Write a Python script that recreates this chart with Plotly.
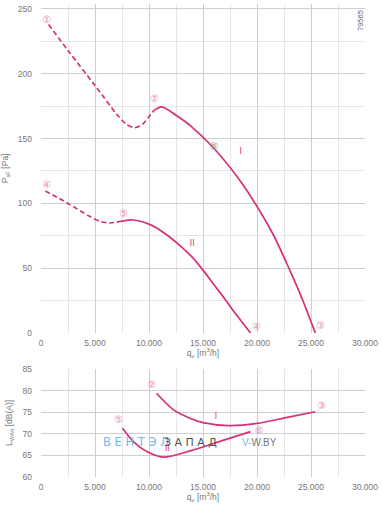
import plotly.graph_objects as go

# ---- data ----
# top chart: pressure curves
qI_dash = [700, 2500, 5000, 7000, 7900, 8700, 9400, 10000, 10500]
pI_dash = [238, 218, 191, 169, 161, 158.5, 161, 167, 172]
qI_sol = [10500, 11200, 12500, 13900, 15900, 18300, 19900, 21500, 22900, 24200, 25400]
pI_sol = [172, 174.5, 168, 159.5, 143.5, 119, 99, 76, 51, 26, 0]

qII_dash = [400, 2500, 4500, 5500, 6400, 7500]
pII_dash = [109.6, 100, 90, 86, 85, 86.3]
qII_sol = [7500, 8550, 10000, 11000, 12000, 13000, 14000, 15000, 16000, 17000, 18000, 19400]
pII_sol = [86.3, 87.2, 84, 79.5, 73.5, 66.5, 58.5, 48.5, 37.5, 26.5, 15, 0]

# bottom chart: sound power curves
qI_snd = [10700, 12250, 13900, 15000, 17400, 20000, 22800, 25400]
lI_snd = [79.4, 75.6, 73.5, 72.6, 71.9, 72.4, 73.8, 75.1]
qII_snd = [7560, 8550, 9800, 11300, 13900, 17000, 19400]
lII_snd = [71.3, 68.2, 65.9, 64.6, 66.1, 68.6, 70.5]

# point labels
top_labels = ["①", "②", "③", "④", "⑤", "④"]
top_lq = [550, 10500, 25900, 530, 7650, 19970]
top_lp = [241.5, 179.8, 5.4, 113.7, 91.8, 4.4]
bot_labels = ["②", "③", "⑤", "⑥"]
bot_lq = [10250, 26000, 7200, 20200]
bot_ll = [81.1, 76.3, 73.0, 70.5]

x_ticks = [0, 5000, 10000, 15000, 20000, 25000, 30000]
top_y_ticks = [0, 50, 100, 150, 200, 250]
bot_y_ticks = [60, 65, 70, 75, 80, 85]

PINK = "#d6307a"
LPINK = "#e98ab5"
GRID = "#cfcfcf"
MGRID = "#e6e6e6"
TXT = "#777777"

fig = go.Figure()

def line(x, y, dash, xa, ya):
    fig.add_trace(go.Scatter(x=x, y=y, mode="lines", xaxis=xa, yaxis=ya,
                             line=dict(color=PINK, width=1.7, dash=dash, shape="spline", smoothing=0.8),
                             hoverinfo="skip", showlegend=False))

line(qI_dash, pI_dash, "5px,3px", "x", "y")
line(qI_sol, pI_sol, "solid", "x", "y")
line(qII_dash, pII_dash, "5px,3px", "x", "y")
line(qII_sol, pII_sol, "solid", "x", "y")
line(qI_snd, lI_snd, "solid", "x2", "y2")
line(qII_snd, lII_snd, "solid", "x2", "y2")

fig.add_trace(go.Scatter(x=top_lq, y=top_lp, mode="text", text=top_labels, xaxis="x", yaxis="y",
                         textfont=dict(color=LPINK, size=10, family="DejaVu Sans"),
                         hoverinfo="skip", showlegend=False))
fig.add_trace(go.Scatter(x=bot_lq, y=bot_ll, mode="text", text=bot_labels, xaxis="x2", yaxis="y2",
                         textfont=dict(color=LPINK, size=10, family="DejaVu Sans"),
                         hoverinfo="skip", showlegend=False))
fig.add_trace(go.Scatter(x=[16050], y=[143.5], mode="text", text=["⑥"], xaxis="x", yaxis="y",
                         textfont=dict(color="#888888", size=10, family="DejaVu Sans"),
                         hoverinfo="skip", showlegend=False))
fig.add_trace(go.Scatter(x=[18500, 14000], y=[139.6, 68.7], mode="text", text=["I", "II"],
                         xaxis="x", yaxis="y",
                         textfont=dict(color=PINK, size=8, family="DejaVu Sans"),
                         hoverinfo="skip", showlegend=False))
fig.add_trace(go.Scatter(x=[16200, 11700], y=[73.8, 66.6], mode="text", text=["I", "II"],
                         xaxis="x2", yaxis="y2",
                         textfont=dict(color=PINK, size=8, family="DejaVu Sans"),
                         hoverinfo="skip", showlegend=False))

W, H = 382, 506
def px_x(p):
    return p / W
def px_y(p):
    return 1 - p / H

xd = [px_x(41), px_x(365)]
# top plot: 0 at y=333 px, 250 at y=9 px; range extended slightly so the 250 grid/tick stays inside
TOP_MAX = 254
top_pix_per = (333 - 9) / 250
top_domain_top = 9 - (TOP_MAX - 250) * top_pix_per

axis_common = dict(showline=False, zeroline=False, gridcolor=GRID, gridwidth=1,
                   tickfont=dict(size=8.5, color=TXT, family="Arial"),
                   ticks="", fixedrange=True, automargin=False)

fig.update_layout(
    width=W, height=H,
    margin=dict(l=0, r=0, t=0, b=0),
    paper_bgcolor="white", plot_bgcolor="white",
    separators=",.",
    font=dict(family="Arial", color=TXT),
    xaxis=dict(domain=xd, anchor="y", range=[0, 30000.5], tickvals=x_ticks, tickformat=",d",
               ticklabelstandoff=3,
               minor=dict(dtick=2500, tick0=0, showgrid=True, gridcolor=MGRID),
               title=dict(text="q<sub>v</sub> [m<sup>3</sup>/h]", font=dict(size=8.5, color=TXT), standoff=0),
               **axis_common),
    yaxis=dict(domain=[px_y(333), px_y(top_domain_top)], anchor="x", range=[0, TOP_MAX],
               tickvals=top_y_ticks, ticklabelstandoff=8,
               minor=dict(tickvals=[25, 75, 125, 175, 225], showgrid=True, gridcolor=MGRID),
               title=dict(text="P<sub>sF</sub> [Pa]", font=dict(size=8.5, color=TXT), standoff=9),
               **axis_common),
    xaxis2=dict(domain=xd, anchor="y2", range=[0, 30000.5], tickvals=x_ticks, tickformat=",d",
                ticklabelstandoff=3,
                minor=dict(dtick=2500, tick0=0, showgrid=True, gridcolor=MGRID),
                title=dict(text="q<sub>v</sub> [m<sup>3</sup>/h]", font=dict(size=8.5, color=TXT), standoff=0),
                **axis_common),
    yaxis2=dict(domain=[px_y(477), px_y(369)], anchor="x2", range=[60, 85.01], tickvals=bot_y_ticks,
                ticklabelstandoff=8,
                title=dict(text="L<sub>WA6</sub> [dB(A)]", font=dict(size=8.5, color=TXT), standoff=8),
                **axis_common),
)

fig.add_annotation(text="79565", x=px_x(361), y=px_y(21), xref="paper", yref="paper",
                   xanchor="center", yanchor="middle",
                   textangle=-90, showarrow=False, font=dict(size=7.5, color="#666666"))

# watermark
fig.add_annotation(text="В Е Н Т Э Л", x=px_x(101), y=px_y(442), xref="paper", yref="paper",
                   xanchor="left", yanchor="middle", showarrow=False,
                   font=dict(size=11.5, color="#6fb8ea", family="DejaVu Sans"))
fig.add_annotation(text="З А П А Д", x=px_x(162), y=px_y(442), xref="paper", yref="paper",
                   xanchor="left", yanchor="middle", showarrow=False,
                   font=dict(size=11, color="#555555", family="DejaVu Sans"))
fig.add_annotation(text='<span style="color:#6fb8ea">V-</span>W.BY', x=px_x(240), y=px_y(442),
                   xref="paper", yref="paper", xanchor="left", yanchor="middle", showarrow=False,
                   font=dict(size=10, color="#777777", family="Arial"))

fig.write_html("out.html", config={"displayModeBar": False},
               post_script=("document.body.style.margin='0';"
                            "document.body.style.overflow='hidden';"
                            "Plotly.relayout(document.getElementById('{plot_id}'), {});"))
